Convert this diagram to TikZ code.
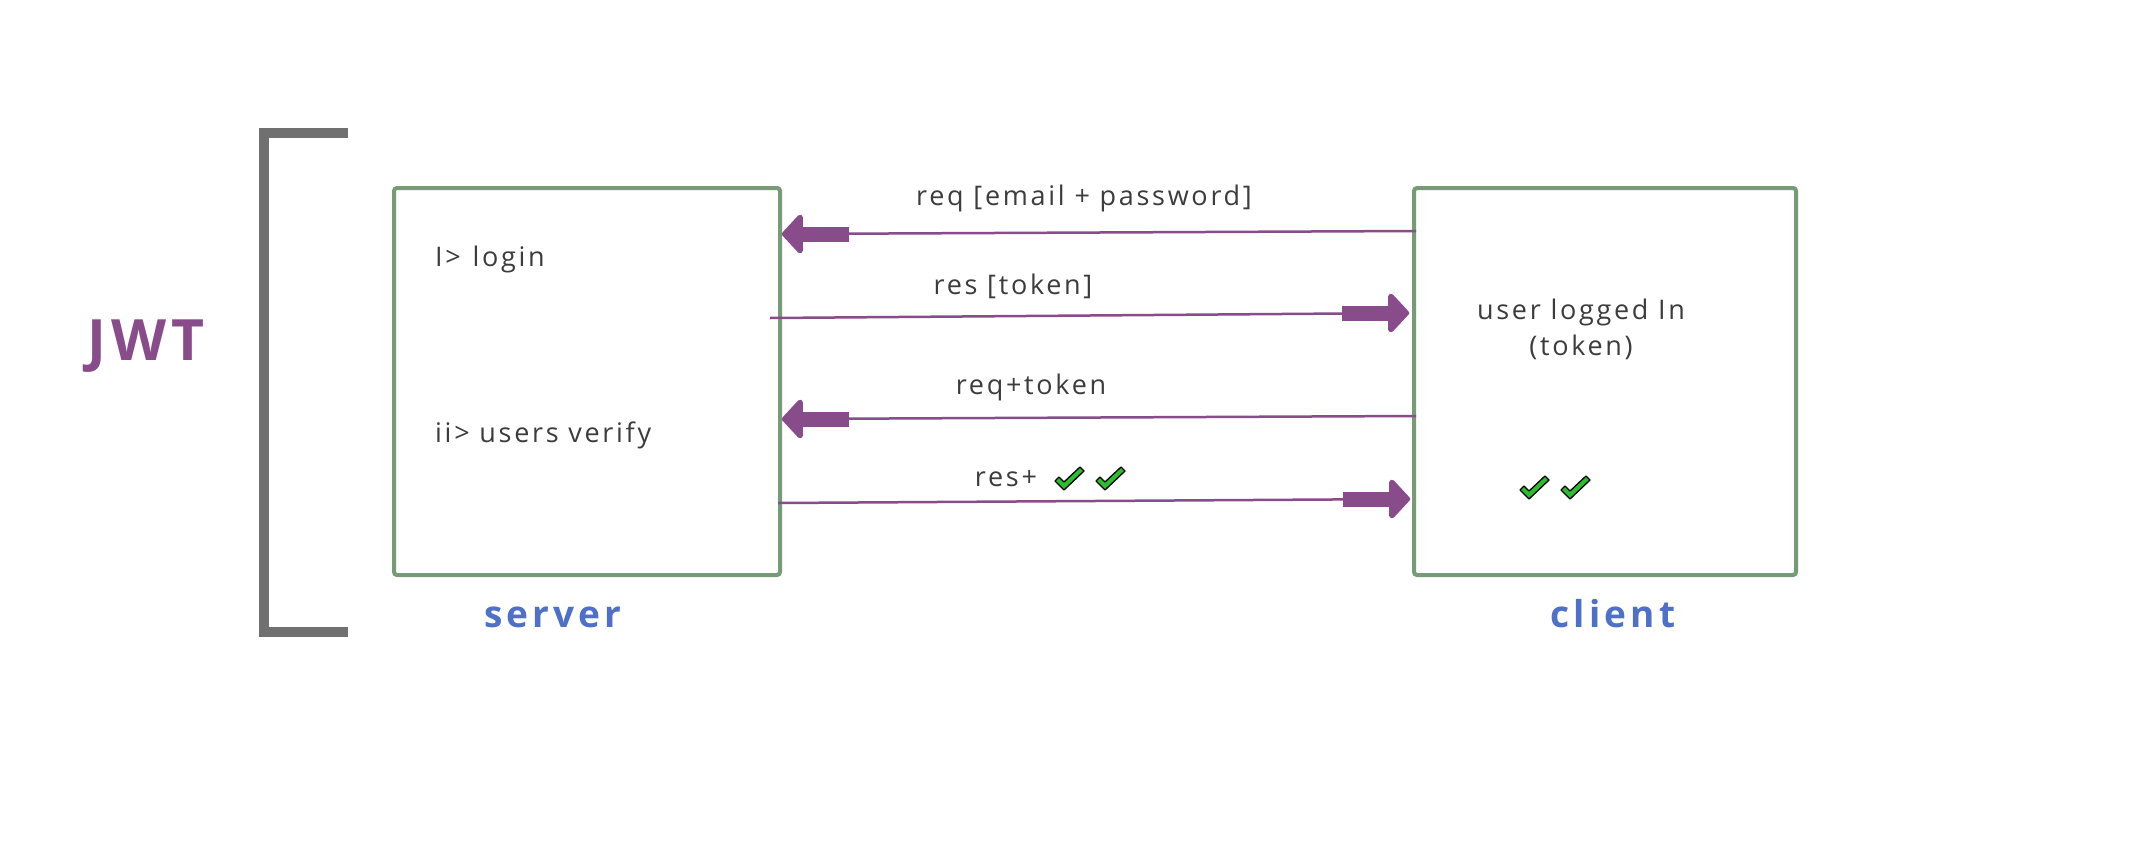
\documentclass[tikz,border=0pt]{standalone}
\usepackage{fontspec}
\setmainfont{Open Sans}
\newfontfamily\txtfont[LetterSpace=10]{Open Sans}
\newfontfamily\sidefont[LetterSpace=11]{Open Sans}
\usetikzlibrary{arrows.meta,calc}
\definecolor{boxgreen}{HTML}{769B76}
\definecolor{arrowpurple}{HTML}{884C8A}
\definecolor{bracketgray}{HTML}{707070}
\definecolor{labelblue}{HTML}{4F70C8}
\definecolor{txtgray}{HTML}{3C3C3C}
\definecolor{chkgreen}{HTML}{2DBE2D}
\begin{document}
\begin{tikzpicture}[x=1pt,y=-1pt,
  box/.style={draw=boxgreen,line width=4pt,rounded corners=3pt,anchor=north west,inner sep=0pt},
  msg/.style={font=\txtfont\fontsize{27}{36}\selectfont,text=txtgray,inner sep=0pt},
  conn/.style={draw=arrowpurple,line width=2.5pt},
  headblk/.style={draw=arrowpurple,line width=15pt,-{Triangle[length=22pt,width=46pt,round]}},
  side/.style={font=\sidefont\bfseries\fontsize{37}{40}\selectfont,text=labelblue,inner sep=0pt},
  chk/.pic={\draw[black,line width=1.3pt,fill=chkgreen,line join=round] (-14,2) -- (-5,11) -- (15,-8) -- (11,-12) -- (-5,3) -- (-10,-2) -- cycle;}]
\useasboundingbox (0,0) rectangle (2132,846);
\fill[white] (0,0) rectangle (2132,846);

% bracket
\draw[bracketgray,line width=10pt] (348,133) -- (264,133) -- (264,632) -- (348,632);
\node[font=\bfseries\fontsize{57}{60}\selectfont,text=arrowpurple,inner sep=0pt] (jwt) at (146,346) {J\kern5pt W\kern5pt T};

% boxes
\node[box,minimum width=386pt,minimum height=387pt] (server) at (392,186) {};
\node[box,minimum width=382pt,minimum height=387pt] (client) at (1412,186) {};

% server texts
\node[msg,anchor=west] (login) at (435,259) {I>\kern2pt{} login};
\node[msg,anchor=west] (verify) at (435,435) {ii> users verify};

% client texts
\node[msg,align=center] (logged) at (1581,329) {user logged In\\(token)};
\pic at (1534,488) {chk};
\pic at (1575,488) {chk};

% side labels
\node[side] (srvlbl) at (553,617) {server};
\node[side] (clilbl) at (1613,614) {client};

% connectors
\coordinate (a1s) at (1416,231); \coordinate (a1e) at (782,234);
\coordinate (a2s) at (770,318);  \coordinate (a2e) at (1409,313);
\coordinate (a3s) at (1416,416); \coordinate (a3e) at (782,419);
\coordinate (a4s) at (778,503);  \coordinate (a4e) at (1410,499);

\draw[conn] (a1s) -- (a1e);
\draw[headblk] ($(a1e)+(67,0)$) -- (a1e);
\draw[conn] (a2s) -- (a2e);
\draw[headblk] ($(a2e)+(-67,0)$) -- (a2e);
\draw[conn] (a3s) -- (a3e);
\draw[headblk] ($(a3e)+(67,0)$) -- (a3e);
\draw[conn] (a4s) -- (a4e);
\draw[headblk] ($(a4e)+(-67,0)$) -- (a4e);

% connector labels
\node[msg] (l1) at (1084,198) {req [email + password]};
\node[msg] (l2) at (1013,286) {res [token]};
\node[msg] (l3) at (1031,387) {req+token};
\node[msg] (l4) at (1006,479) {res+};
\pic at (1069,479) {chk};
\pic at (1110,479) {chk};
\end{tikzpicture}
\end{document}
